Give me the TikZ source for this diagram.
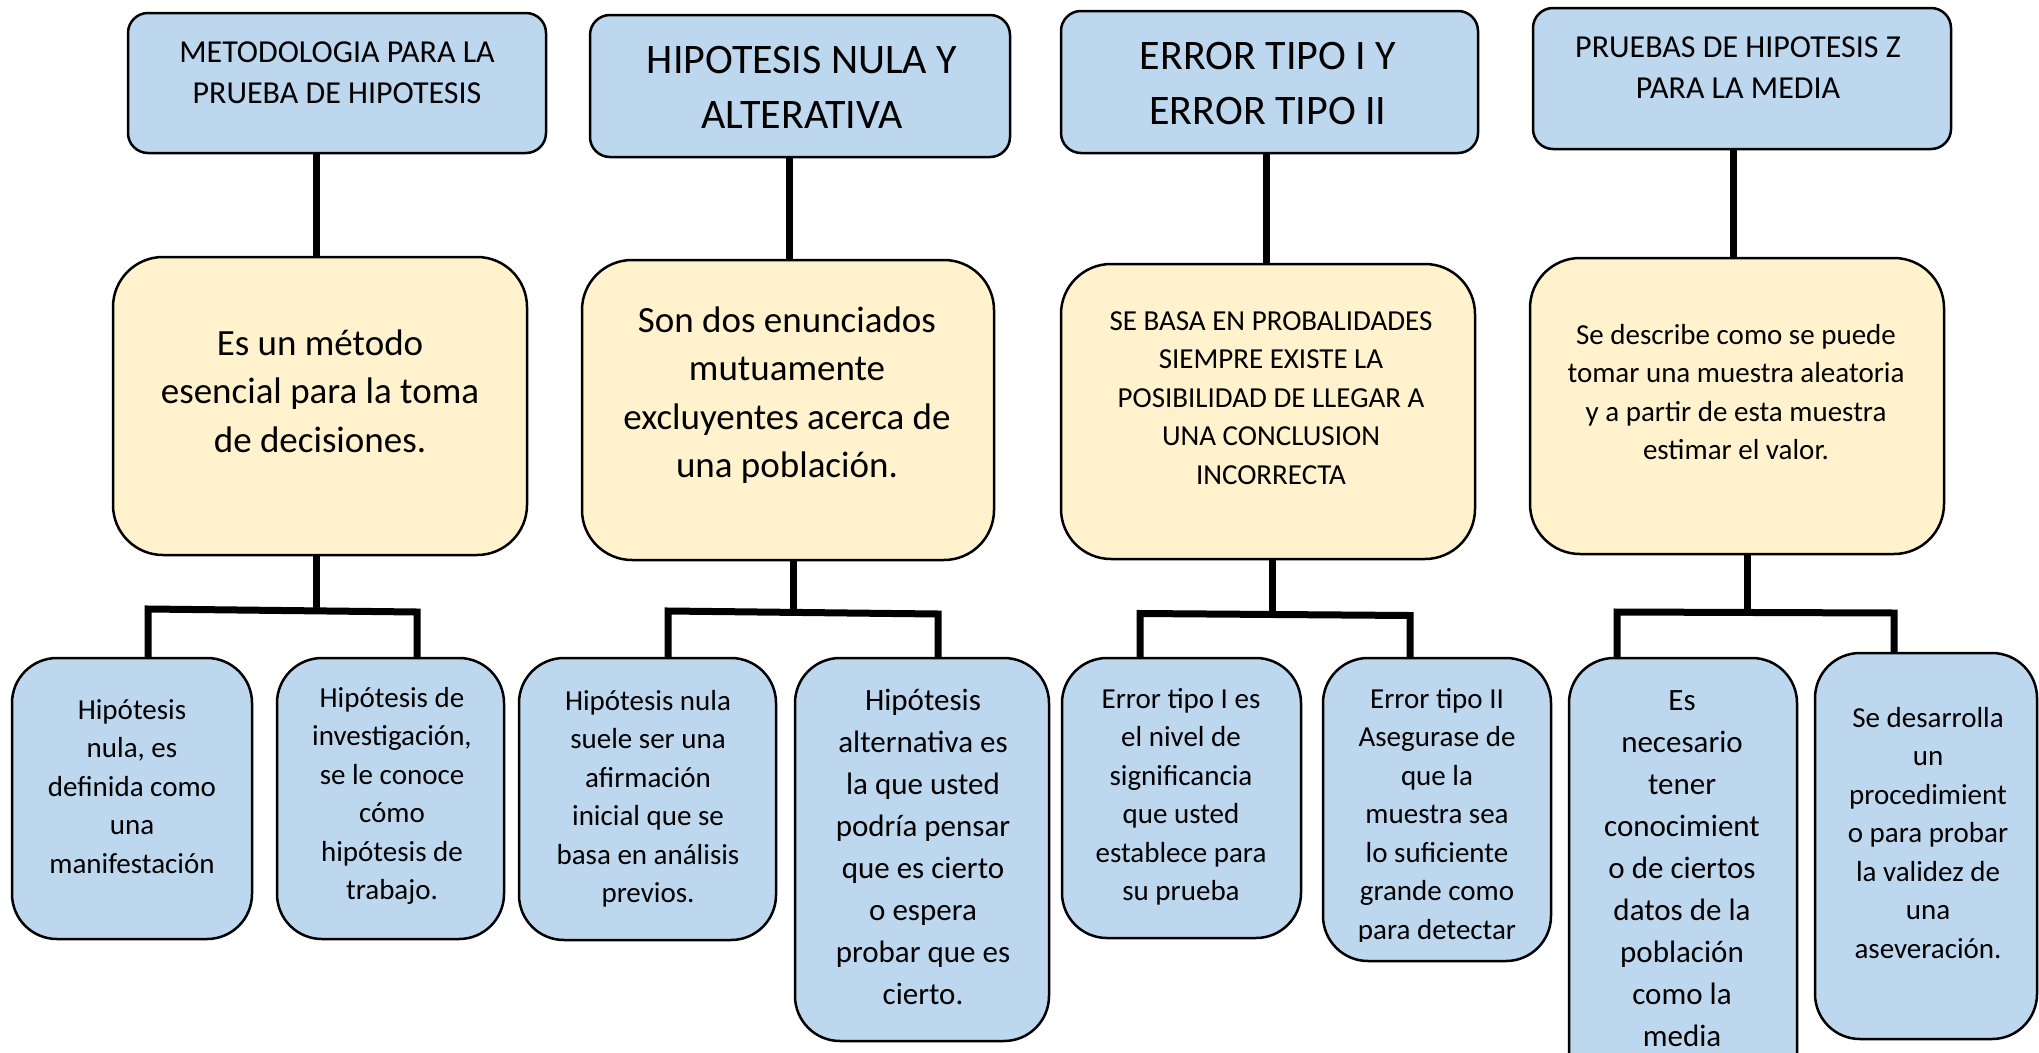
\documentclass[tikz,border=0pt]{standalone}
\usepackage{fontspec}
\setmainfont{Carlito}
\definecolor{boxblue}{HTML}{BDD7EE}
\definecolor{boxyellow}{HTML}{FFF2CC}
\begin{document}
\begin{tikzpicture}[x=1pt,y=-1pt,
  box/.style={draw=black, line width=2.5pt, anchor=north west, inner sep=0pt, outer sep=0pt},
  topbox/.style={box, fill=boxblue, rounded corners=20pt},
  midbox/.style={box, fill=boxyellow, rounded corners=50pt},
  botbox/.style={box, fill=boxblue, rounded corners=45pt},
  txt/.style={anchor=base, align=center, inner sep=0pt, text=black},
  fA/.style={font=\fontsize{32}{41}\selectfont},
  fB/.style={font=\fontsize{42}{55.5}\selectfont},
  fC/.style={font=\fontsize{37}{48.5}\selectfont},
  fD/.style={font=\fontsize{29}{38.5}\selectfont},
  fE/.style={font=\fontsize{31}{42}\selectfont},
  conn/.style={line width=7pt, black, line join=miter}]
\useasboundingbox (0,0) rectangle (2039,1052);
\clip (0,0) rectangle (2039,1052);

% ---------- top boxes ----------
\node[topbox, minimum width=418pt, minimum height=140pt] (t1) at (128,13) {};
\node[topbox, minimum width=420pt, minimum height=142pt] (t2) at (590,15) {};
\node[topbox, minimum width=417pt, minimum height=142pt] (t3) at (1061,11) {};
\node[topbox, minimum width=418pt, minimum height=141pt] (t4) at (1533,8) {};
% text nodes: anchor base = baseline of the last line
\node[txt, fA] (t1t) at (337,103) {METODOLOGIA PARA LA\\PRUEBA DE HIPOTESIS};
\node[txt, fB] (t2t) at (802,128.5) {HIPOTESIS NULA Y\\ALTERATIVA};
\node[txt, fB] (t3t) at (1268,124.5) {ERROR TIPO I Y\\ERROR TIPO II};
\node[txt, fA] (t4t) at (1738,98) {PRUEBAS DE HIPOTESIS Z\\PARA LA MEDIA};

% ---------- middle boxes ----------
\node[midbox, minimum width=414pt, minimum height=298pt] (m1) at (113,257) {};
\node[midbox, minimum width=412pt, minimum height=300pt] (m2) at (582,260) {};
\node[midbox, minimum width=414pt, minimum height=295pt] (m3) at (1061,264) {};
\node[midbox, minimum width=414pt, minimum height=296pt] (m4) at (1530,258) {};
\node[txt, fC] (m1t) at (320,452) {Es un método\\esencial para la toma\\de decisiones.};
\node[txt, fC] (m2t) at (787,477.5) {Son dos enunciados\\mutuamente\\excluyentes acerca de\\una población.};
\node[txt, fD] (m3t) at (1271,484) {SE BASA EN PROBALIDADES\\SIEMPRE EXISTE LA\\POSIBILIDAD DE LLEGAR A\\UNA CONCLUSION\\INCORRECTA};
\node[txt, fD] (m4t) at (1736,459.5) {Se describe como se puede\\tomar una muestra aleatoria\\y a partir de esta muestra\\estimar el valor.};

% ---------- bottom boxes ----------
\node[botbox, minimum width=240pt, minimum height=281pt] (b1) at (12,658) {};
\node[botbox, minimum width=227pt, minimum height=281pt] (b2) at (277,658) {};
\node[botbox, minimum width=257pt, minimum height=282pt] (b3) at (519,658) {};
\node[botbox, minimum width=254pt, minimum height=383pt] (b4) at (795,658) {};
\node[botbox, minimum width=239pt, minimum height=280pt] (b5) at (1062,658) {};
\node[botbox, minimum width=228pt, minimum height=303pt] (b6) at (1323,658) {};
\node[botbox, minimum width=228pt, minimum height=450pt] (b7) at (1569,658) {};
\node[botbox, minimum width=222pt, minimum height=386pt] (b8) at (1815,653) {};

\node[txt, fD] (b1t) at (132,873) {Hipótesis\\nula, es\\definida como\\una\\manifestación};
\node[txt, fD] (b2t) at (392,899.5) {Hipótesis de\\investigación,\\se le conoce\\cómo\\hipótesis de\\trabajo.};
\node[txt, fD] (b3t) at (648,902.5) {Hipótesis nula\\suele ser una\\afirmación\\inicial que se\\basa en análisis\\previos.};
\node[txt, fE] (b4t) at (923,1004) {Hipótesis\\alternativa es\\la que usted\\podría pensar\\que es cierto\\o espera\\probar que es\\cierto.};
\node[txt, fD] (b5t) at (1181,900.5) {Error tipo I es\\el nivel de\\significancia\\que usted\\establece para\\su prueba};
\begin{scope}
\clip (1323,658) rectangle (1551,941);
\node[txt, fD] (b6t) at (1437,939) {Error tipo II\\Asegurase de\\que la\\muestra sea\\lo suficiente\\grande como\\para detectar};
\end{scope}
\node[txt, fE] (b7t) at (1682,1046) {Es\\necesario\\tener\\conocimient\\o de ciertos\\datos de la\\población\\como la\\media};
\node[txt, fD] (b8t) at (1928,958) {Se desarrolla\\un\\procedimient\\o para probar\\la validez de\\una\\aseveración.};

% ---------- connectors ----------
\coordinate (s1) at (316,0);
\coordinate (s2) at (789,0);
\coordinate (s3) at (1266,0);
\coordinate (s4) at (1733,0);
\draw[conn] (t1.south -| s1) -- (m1.north -| s1);
\draw[conn] (t2.south -| s2) -- (m2.north -| s2);
\draw[conn] (t3.south -| s3) -- (m3.north -| s3);
\draw[conn] (t4.south -| s4) -- (m4.north -| s4);

\coordinate (j1) at (316,610.5);
\coordinate (j1l) at (148,609);
\coordinate (j1r) at (417,612);
\coordinate (j2) at (793,612.5);
\coordinate (j2l) at (668,611);
\coordinate (j2r) at (938,614);
\coordinate (j3) at (1272,614.5);
\coordinate (j3l) at (1140,613.5);
\coordinate (j3r) at (1410,615.5);
\coordinate (j4) at (1747,612.5);
\coordinate (j4l) at (1617,612);
\coordinate (j4r) at (1894,613);

\draw[conn] (m1.south -| j1) -- (j1);
\draw[conn] (b1.north -| j1l) -- (j1l) -- (j1r) -- (b2.north -| j1r);
\draw[conn] (m2.south -| j2) -- (j2);
\draw[conn] (b3.north -| j2l) -- (j2l) -- (j2r) -- (b4.north -| j2r);
\draw[conn] (m3.south -| j3) -- (j3);
\draw[conn] (b5.north -| j3l) -- (j3l) -- (j3r) -- (b6.north -| j3r);
\draw[conn] (m4.south -| j4) -- (j4);
\draw[conn] (b7.north -| j4l) -- (j4l) -- (j4r) -- (b8.north -| j4r);
\end{tikzpicture}
\end{document}
